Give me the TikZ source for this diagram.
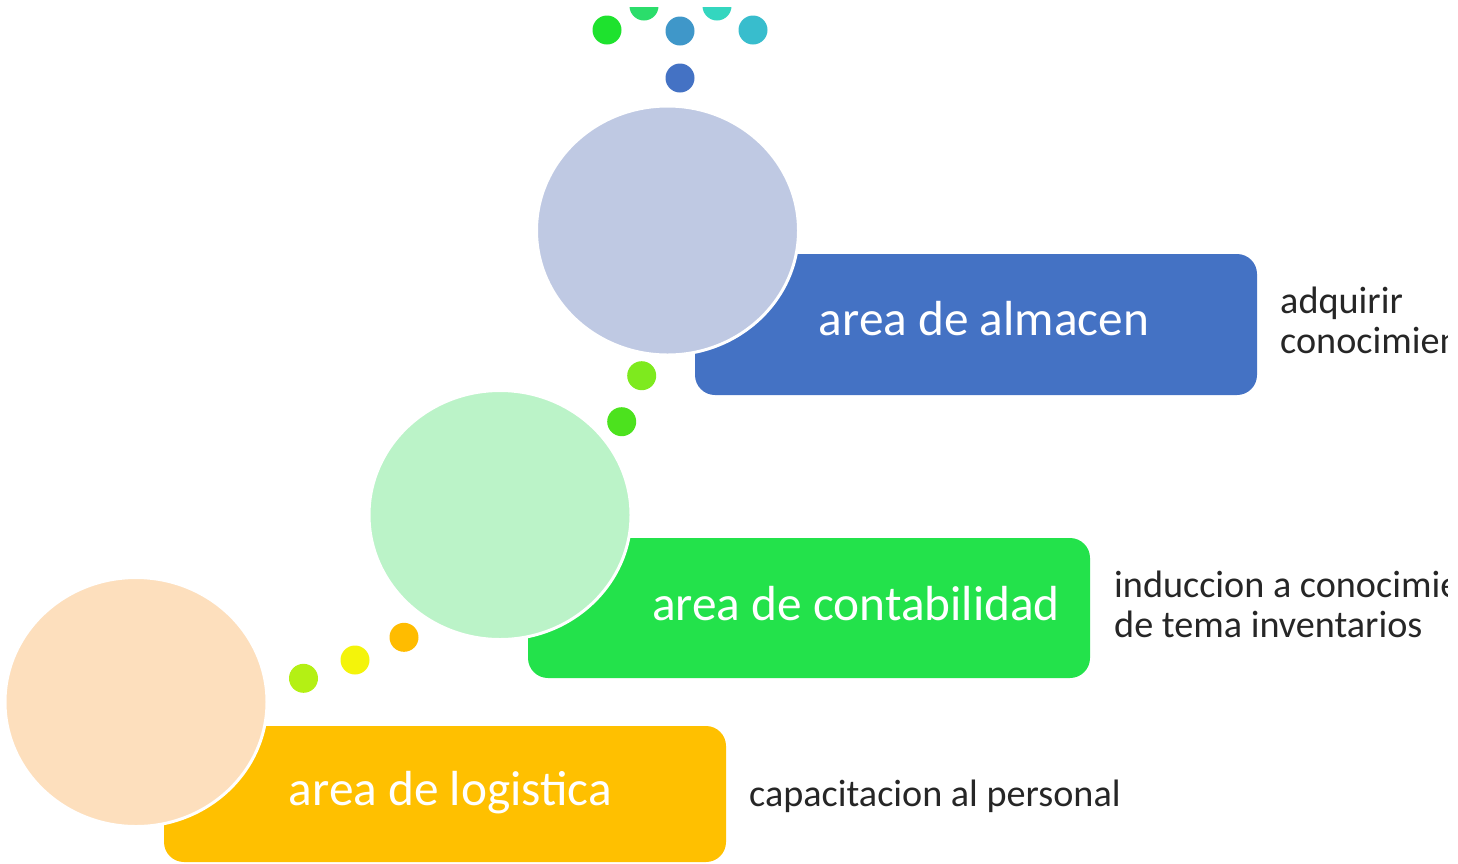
\documentclass[tikz,border=0pt]{standalone}
\usepackage{fontspec}
\setmainfont{Carlito}
\usetikzlibrary{shapes.geometric}
\definecolor{cBlue}{HTML}{4472C4}
\definecolor{cBlueL}{HTML}{BFC9E3}
\definecolor{cGreen}{HTML}{23E24B}
\definecolor{cGreenL}{HTML}{BBF3C8}
\definecolor{cOrange}{HTML}{FFC000}
\definecolor{cOrangeL}{HTML}{FDDFBD}
\definecolor{dA}{HTML}{B4F014}
\definecolor{dB}{HTML}{F4F40A}
\definecolor{dC}{HTML}{FFBC00}
\definecolor{dD}{HTML}{4CE21E}
\definecolor{dE}{HTML}{7EEA1E}
\definecolor{dF}{HTML}{4472C4}
\definecolor{dG}{HTML}{1EE22E}
\definecolor{dH}{HTML}{2BDD6B}
\definecolor{dI}{HTML}{3F97C9}
\definecolor{dJ}{HTML}{34D6BF}
\definecolor{dK}{HTML}{38BDCD}
\tikzset{
  areabox/.style={rounded corners=20pt, draw=none, minimum width=562pt, inner sep=0pt},
  bubble/.style={ellipse, draw=white, line width=3pt, minimum width=262pt, minimum height=249pt, inner sep=0pt},
  dot/.style={circle, draw=none, minimum size=29pt, inner sep=0pt},
  boxtext/.style={text=white, font=\fontsize{49.3}{59}\selectfont, anchor=base, inner sep=0pt},
  sidetext/.style={text=black!85, font=\fontsize{38.2}{42}\selectfont, anchor=base west, inner sep=0pt}
}
\begin{document}
\begin{tikzpicture}[x=1pt,y=-1pt]
\useasboundingbox (0,0) rectangle (1458,863);
\begin{scope}
\clip (0,7) rectangle (1447,863);
% top dots
\node[dot, fill=dH] (t2) at (644,6) {};
\node[dot, fill=dJ] (t4) at (717,6) {};
\node[dot, fill=dG] (t1) at (607,30) {};
\node[dot, fill=dI] (t3) at (680,31) {};
\node[dot, fill=dK] (t5) at (753,30) {};
\node[dot, fill=dF] (t6) at (680,78) {};
% boxes
\node[areabox, fill=cBlue, minimum height=141pt] (b1) at (976,324.5) {};
\node[areabox, fill=cGreen, minimum height=140pt] (b2) at (809,608) {};
\node[areabox, fill=cOrange, minimum height=136pt] (b3) at (445,794) {};
% bubbles
\node[bubble, fill=cBlueL] (c1) at (667.5,230.5) {};
\node[bubble, fill=cGreenL] (c2) at (500,515) {};
\node[bubble, fill=cOrangeL] (c3) at (136,702) {};
% middle dots
\node[dot, fill=dE] (m1) at (641.7,375.7) {};
\node[dot, fill=dD] (m2) at (621.7,421.7) {};
% lower dots
\node[dot, fill=dA] (l1) at (303.5,678.3) {};
\node[dot, fill=dB] (l2) at (355,660) {};
\node[dot, fill=dC] (l3) at (404,637.3) {};
% box texts
\node[boxtext] (x1) at (984,335) {area de almacen};
\node[boxtext] (x2) at (856,620) {area de contabilidad};
\node[boxtext] (x3) at (450.5,805) {area de logistica};
% side texts
\node[sidetext] (s1a) at (1280,313) {adquirir};
\node[sidetext] (s1b) at (1280,353) {conocimiento};
\node[sidetext] (s2a) at (1114,597) {induccion a conocimiento};
\node[sidetext] (s2b) at (1114,637) {de tema inventarios};
\node[sidetext] (s3) at (749,806) {capacitacion al personal};
\end{scope}
\end{tikzpicture}
\end{document}
